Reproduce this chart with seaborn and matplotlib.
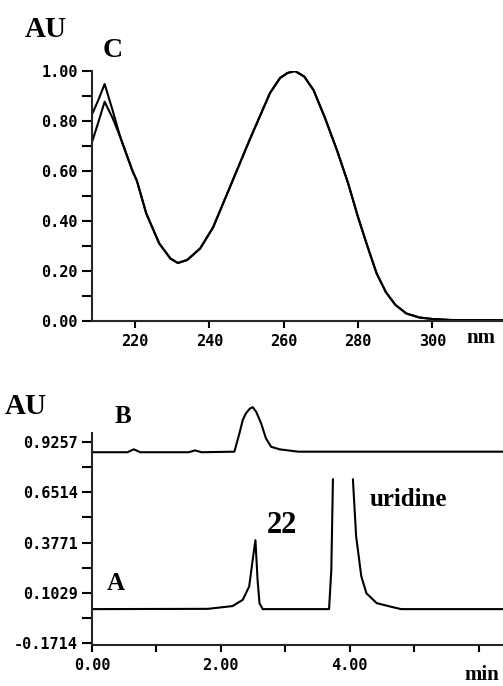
import numpy as np
import pandas as pd
import matplotlib
matplotlib.use("Agg")
import matplotlib.pyplot as plt
from matplotlib.ticker import MultipleLocator, FixedLocator, FixedFormatter
import seaborn as sns

# ---- Data: UV spectrum (panel C) ----
wavelength = [208.5, 210, 211.8, 214, 216, 219.2, 220.5, 223, 226.5, 229.5, 231.5, 234,
              237.5, 241, 245.5, 250.8, 256.3, 259, 261, 263, 265.5, 268, 271, 274.3,
              277.3, 280, 282.5, 285, 287.5, 290, 293, 296.5, 300, 305, 319]
spec_upper = [0.83, 0.88, 0.948, 0.84, 0.736, 0.604, 0.56, 0.43, 0.31, 0.25, 0.232, 0.244,
              0.29, 0.375, 0.535, 0.724, 0.912, 0.972, 0.992, 1.0, 0.978, 0.924, 0.816, 0.684,
              0.552, 0.415, 0.30, 0.19, 0.115, 0.065, 0.03, 0.014, 0.008, 0.004, 0.003]
spec_lower = [0.72, 0.79, 0.877, 0.81, 0.736, 0.604, 0.56, 0.43, 0.31, 0.25, 0.232, 0.244,
              0.29, 0.375, 0.535, 0.724, 0.912, 0.972, 0.992, 1.0, 0.978, 0.924, 0.816, 0.684,
              0.552, 0.415, 0.30, 0.19, 0.115, 0.065, 0.03, 0.014, 0.008, 0.004, 0.003]

# ---- Data: chromatograms ----
time_B = [0, 0.55, 0.65, 0.75, 1.50, 1.60, 1.70, 2.21, 2.29, 2.34, 2.39, 2.45, 2.495,
          2.55, 2.625, 2.70, 2.78, 2.91, 3.09, 3.2, 6.38]
trace_B = [0.870, 0.870, 0.886, 0.870, 0.870, 0.880, 0.870, 0.873, 0.975, 1.046, 1.083,
           1.108, 1.116, 1.09, 1.028, 0.946, 0.90, 0.886, 0.878, 0.873, 0.873]

time_A1 = [0, 1.8, 2.18, 2.34, 2.44, 2.495, 2.537, 2.57, 2.60, 2.65, 3.68, 3.715, 3.74]
trace_A1 = [0.0135, 0.015, 0.03, 0.064, 0.137, 0.284, 0.39, 0.174, 0.046, 0.0135, 0.0135,
            0.229, 0.723]
time_A2 = [4.05, 4.10, 4.18, 4.26, 4.42, 4.67, 4.80, 6.38]
trace_A2 = [0.723, 0.412, 0.193, 0.10, 0.046, 0.024, 0.0135, 0.0135]

spec_yticks = [0.0, 0.2, 0.4, 0.6, 0.8, 1.0]
spec_xticks = [220, 240, 260, 280, 300]
chrom_yticks = [-0.1714, 0.1029, 0.3771, 0.6514, 0.9257]
chrom_xticks = [0.0, 2.0, 4.0]

# ---- Style ----
sns.set_style("ticks")
plt.rcParams['font.family'] = ['DejaVu Sans Mono']
plt.rcParams['font.weight'] = 'bold'
SERIF = ['Liberation Serif', 'DejaVu Serif']

W, H = 503, 686
fig = plt.figure(figsize=(W / 100, H / 100), dpi=100)

def fx(px):
    return px / W

def fy(py):
    return 1 - py / H

lw = 1.5

# ---- Top panel: spectrum ----
ax1 = fig.add_axes([fx(92), fy(321), 1 - fx(92), 250 / H])
df_spec = pd.DataFrame({"nm": wavelength + wavelength,
                        "AU": spec_upper + spec_lower,
                        "run": ["1"] * len(wavelength) + ["2"] * len(wavelength)})
sns.lineplot(data=df_spec, x="nm", y="AU", units="run", estimator=None,
             color="black", lw=lw, ax=ax1, sort=False)
ax1.set_xlim(208.4, 319)
ax1.set_ylim(0, 1.0)
ax1.yaxis.set_major_locator(FixedLocator(spec_yticks))
ax1.yaxis.set_major_formatter(FixedFormatter([f"{v:.2f}" for v in spec_yticks]))
ax1.yaxis.set_minor_locator(MultipleLocator(0.1))
ax1.xaxis.set_major_locator(FixedLocator(spec_xticks))
ax1.xaxis.set_major_formatter(FixedFormatter([str(v) for v in spec_xticks]))

# ---- Bottom panel: chromatograms ----
ax2 = fig.add_axes([fx(92), fy(645), 1 - fx(92), (645 - 433) / H])
sns.lineplot(x=time_B, y=trace_B, color="black", lw=lw, ax=ax2, sort=False)
sns.lineplot(x=time_A1, y=trace_A1, color="black", lw=lw, ax=ax2, sort=False)
sns.lineplot(x=time_A2, y=trace_A2, color="black", lw=lw, ax=ax2, sort=False)
for ln in ax2.lines:
    ln.set_clip_on(False)
ax2.set_xlim(0, 6.38)
ax2.set_ylim(-0.1824, 0.975)
ax2.yaxis.set_major_locator(FixedLocator(chrom_yticks))
ax2.yaxis.set_major_formatter(FixedFormatter([f"{v:.4f}" for v in chrom_yticks]))
minor_y = [(chrom_yticks[i] + chrom_yticks[i + 1]) / 2 for i in range(len(chrom_yticks) - 1)]
ax2.yaxis.set_minor_locator(FixedLocator(minor_y))
ax2.xaxis.set_major_locator(FixedLocator(chrom_xticks))
ax2.xaxis.set_major_formatter(FixedFormatter([f"{v:.2f}" for v in chrom_xticks]))
ax2.xaxis.set_minor_locator(FixedLocator([1, 3, 5, 6]))

for ax in (ax1, ax2):
    sns.despine(ax=ax)
    ax.set_xlabel("")
    ax.set_ylabel("")
    ax.spines['left'].set_linewidth(1.5)
    ax.spines['bottom'].set_linewidth(1.5)
    ax.tick_params(axis='y', which='both', direction='out', length=7, width=1.5,
                   labelsize=11, pad=3, colors='black')
    ax.tick_params(axis='x', which='both', direction='out', length=5, width=1.5,
                   labelsize=11, pad=4, colors='black')
    for lab in ax.get_xticklabels() + ax.get_yticklabels():
        lab.set_fontweight('bold')
        lab.set_family(['DejaVu Sans Mono'])

# ---- Annotations ----
def label(px, py, s, size, ha='left'):
    fig.text(fx(px), fy(py), s, ha=ha, va='baseline', fontsize=size,
             fontweight='bold', family=SERIF, color='black')

label(25, 37, "AU", 21)
label(103, 57, "C", 20)
label(466, 343, "nm", 15)
label(5, 414, "AU", 21)
label(115, 423, "B", 18)
label(107, 590, "A", 18)
label(267, 533, "22", 22)
label(370, 506, "uridine", 18)
label(464, 680, "min", 15)

fig.savefig("out.png", dpi=100)
